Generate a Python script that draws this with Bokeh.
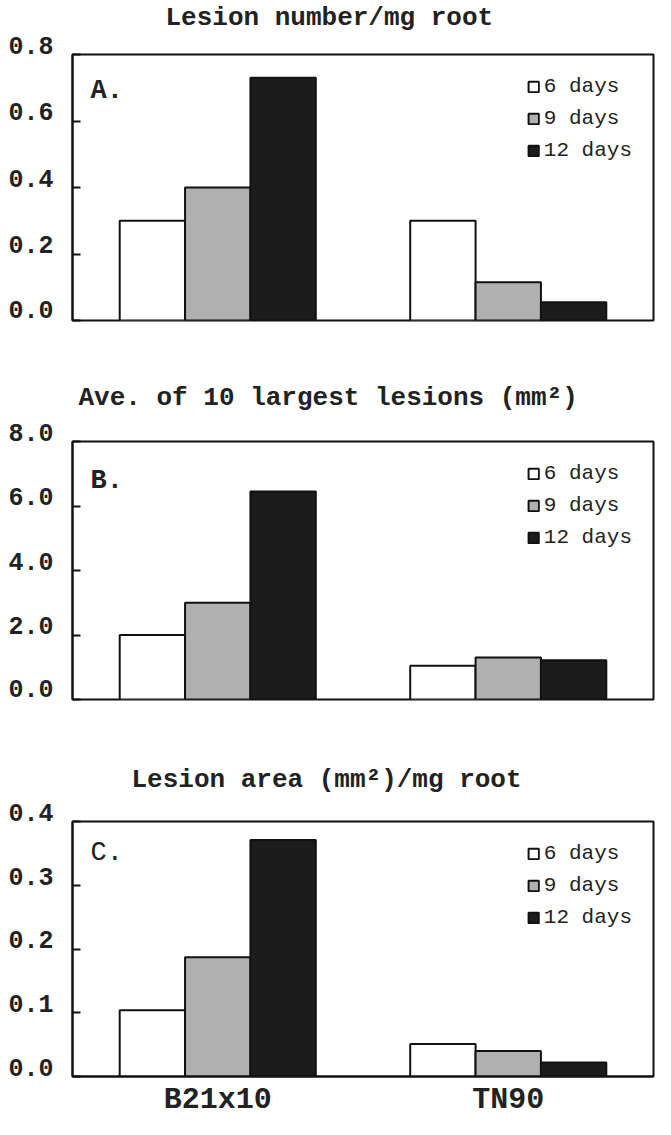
from bokeh.plotting import figure
from bokeh.layouts import column
from bokeh.models import (FactorRange, Legend, Label, FixedTicker, Title,
                          ColumnDataSource, Range1d)
from bokeh.transform import dodge
from bokeh.embed import file_html
from bokeh.resources import INLINE

groups = ["B21x10", "TN90"]
days = ["6 days", "9 days", "12 days"]

# Panel A: Lesion number/mg root
a_6 = [0.30, 0.30]
a_9 = [0.40, 0.115]
a_12 = [0.73, 0.055]
a_ticks = [0.0, 0.2, 0.4, 0.6, 0.8]
a_labels = ["0.0", "0.2", "0.4", "0.6", "0.8"]

# Panel B: Ave. of 10 largest lesions (mm2)
b_6 = [2.0, 1.05]
b_9 = [3.0, 1.30]
b_12 = [6.45, 1.22]
b_ticks = [0.0, 2.0, 4.0, 6.0, 8.0]
b_labels = ["0.0", "2.0", "4.0", "6.0", "8.0"]

# Panel C: Lesion area (mm2)/mg root
c_6 = [0.104, 0.051]
c_9 = [0.187, 0.040]
c_12 = [0.371, 0.022]
c_ticks = [0.0, 0.1, 0.2, 0.3, 0.4]
c_labels = ["0.0", "0.1", "0.2", "0.3", "0.4"]

titles = ["Lesion number/mg root",
          "Ave. of 10 largest lesions (mm\u00b2)",
          "Lesion area (mm\u00b2)/mg root"]
letters = ["A.", "B.", "C."]

FONT = "Liberation Mono"
INK = "#222222"
fills = ["#ffffff", "#b0b0b0", "#1c1c1c"]
W = 655
BL = 72
BR = 2
BAR = 0.225


def panel(title, letter, s6, s9, s12, ticks, labels, height, btop, bbot,
          toff, tstand, letter_dy, show_x, letter_bold=True, title_lh=None):
    fh = height - btop - bbot
    src = ColumnDataSource(dict(group=groups, d6=s6, d9=s9, d12=s12))
    p = figure(width=W, height=height, x_range=FactorRange(*groups, range_padding=0),
               y_range=Range1d(ticks[0], ticks[-1]),
               output_backend="svg", toolbar_location=None,
               min_border_left=BL, min_border_right=BR,
               min_border_top=btop, min_border_bottom=bbot)

    items = []
    for off, col, fc, lab in zip([-BAR, 0, BAR], ["d6", "d9", "d12"], fills, days):
        r = p.vbar(x=dodge("group", off, range=p.x_range), top=col, width=BAR,
                   bottom=0, source=src, fill_color=fc, line_color="#111111",
                   line_width=2)
        items.append((lab, [r]))

    leg = Legend(items=items, location="top_right", margin=21, padding=11,
                 spacing=9, glyph_width=13, glyph_height=13, label_standoff=4,
                 label_text_font=FONT, label_text_font_size="21px",
                 label_text_color=INK, border_line_color=None,
                 background_fill_alpha=0)
    p.add_layout(leg)

    t = Title(text=title if title_lh is None else title + "\n",
              align="left", offset=toff, standoff=tstand,
              text_font=FONT, text_font_size="26px", text_font_style="bold",
              text_color=INK)
    if title_lh is not None:
        t.text_line_height = title_lh
    p.add_layout(t, "above")

    p.add_layout(Label(x=18, y=fh - letter_dy, x_units="screen", y_units="screen",
                       text=letter, text_font=FONT, text_font_size="27px",
                       text_font_style="bold" if letter_bold else "normal",
                       text_color=INK, text_baseline="middle", text_align="left"))

    p.xgrid.visible = False
    p.ygrid.visible = False
    p.outline_line_color = "#111111"
    p.outline_line_width = 2

    ya = p.yaxis[0]
    ya.ticker = FixedTicker(ticks=ticks)
    # a trailing blank line lifts each label a little above its tick mark
    ya.major_label_overrides = {tk: lb + "\n" for tk, lb in zip(ticks, labels)}
    ya.major_label_text_line_height = 0.5
    ya.major_tick_in = 8
    ya.major_tick_out = 0
    ya.minor_tick_line_color = None
    ya.major_tick_line_width = 2
    ya.major_tick_line_color = "#111111"
    ya.axis_line_width = 2
    ya.axis_line_color = "#111111"
    ya.major_label_standoff = 19
    ya.major_label_text_font = FONT
    ya.major_label_text_font_size = "25px"
    ya.major_label_text_font_style = "bold"
    ya.major_label_text_color = INK

    xa = p.xaxis[0]
    if show_x:
        xa.major_tick_line_color = None
        xa.major_tick_out = 0
        xa.major_tick_in = 0
        xa.minor_tick_line_color = None
        xa.axis_line_width = 2
        xa.axis_line_color = "#111111"
        xa.major_label_standoff = 6
        xa.major_label_text_font = FONT
        xa.major_label_text_font_size = "30px"
        xa.major_label_text_font_style = "bold"
        xa.major_label_text_color = INK
    else:
        xa.visible = False
    return p


pa = panel(titles[0], letters[0], a_6, a_9, a_12, a_ticks, a_labels,
           340, 53, 20, 93, 0, 37, False, title_lh=0.73)
pb = panel(titles[1], letters[1], b_6, b_9, b_12, b_ticks, b_labels,
           379, 101, 20, 6, 58, 39, False)
pc = panel(titles[2], letters[2], c_6, c_9, c_12, c_ticks, c_labels,
           400, 102, 41, 59, 54, 33, True, False)

layout = column(pa, pb, pc, spacing=0)
open("out.html", "w").write(file_html(layout, INLINE))
